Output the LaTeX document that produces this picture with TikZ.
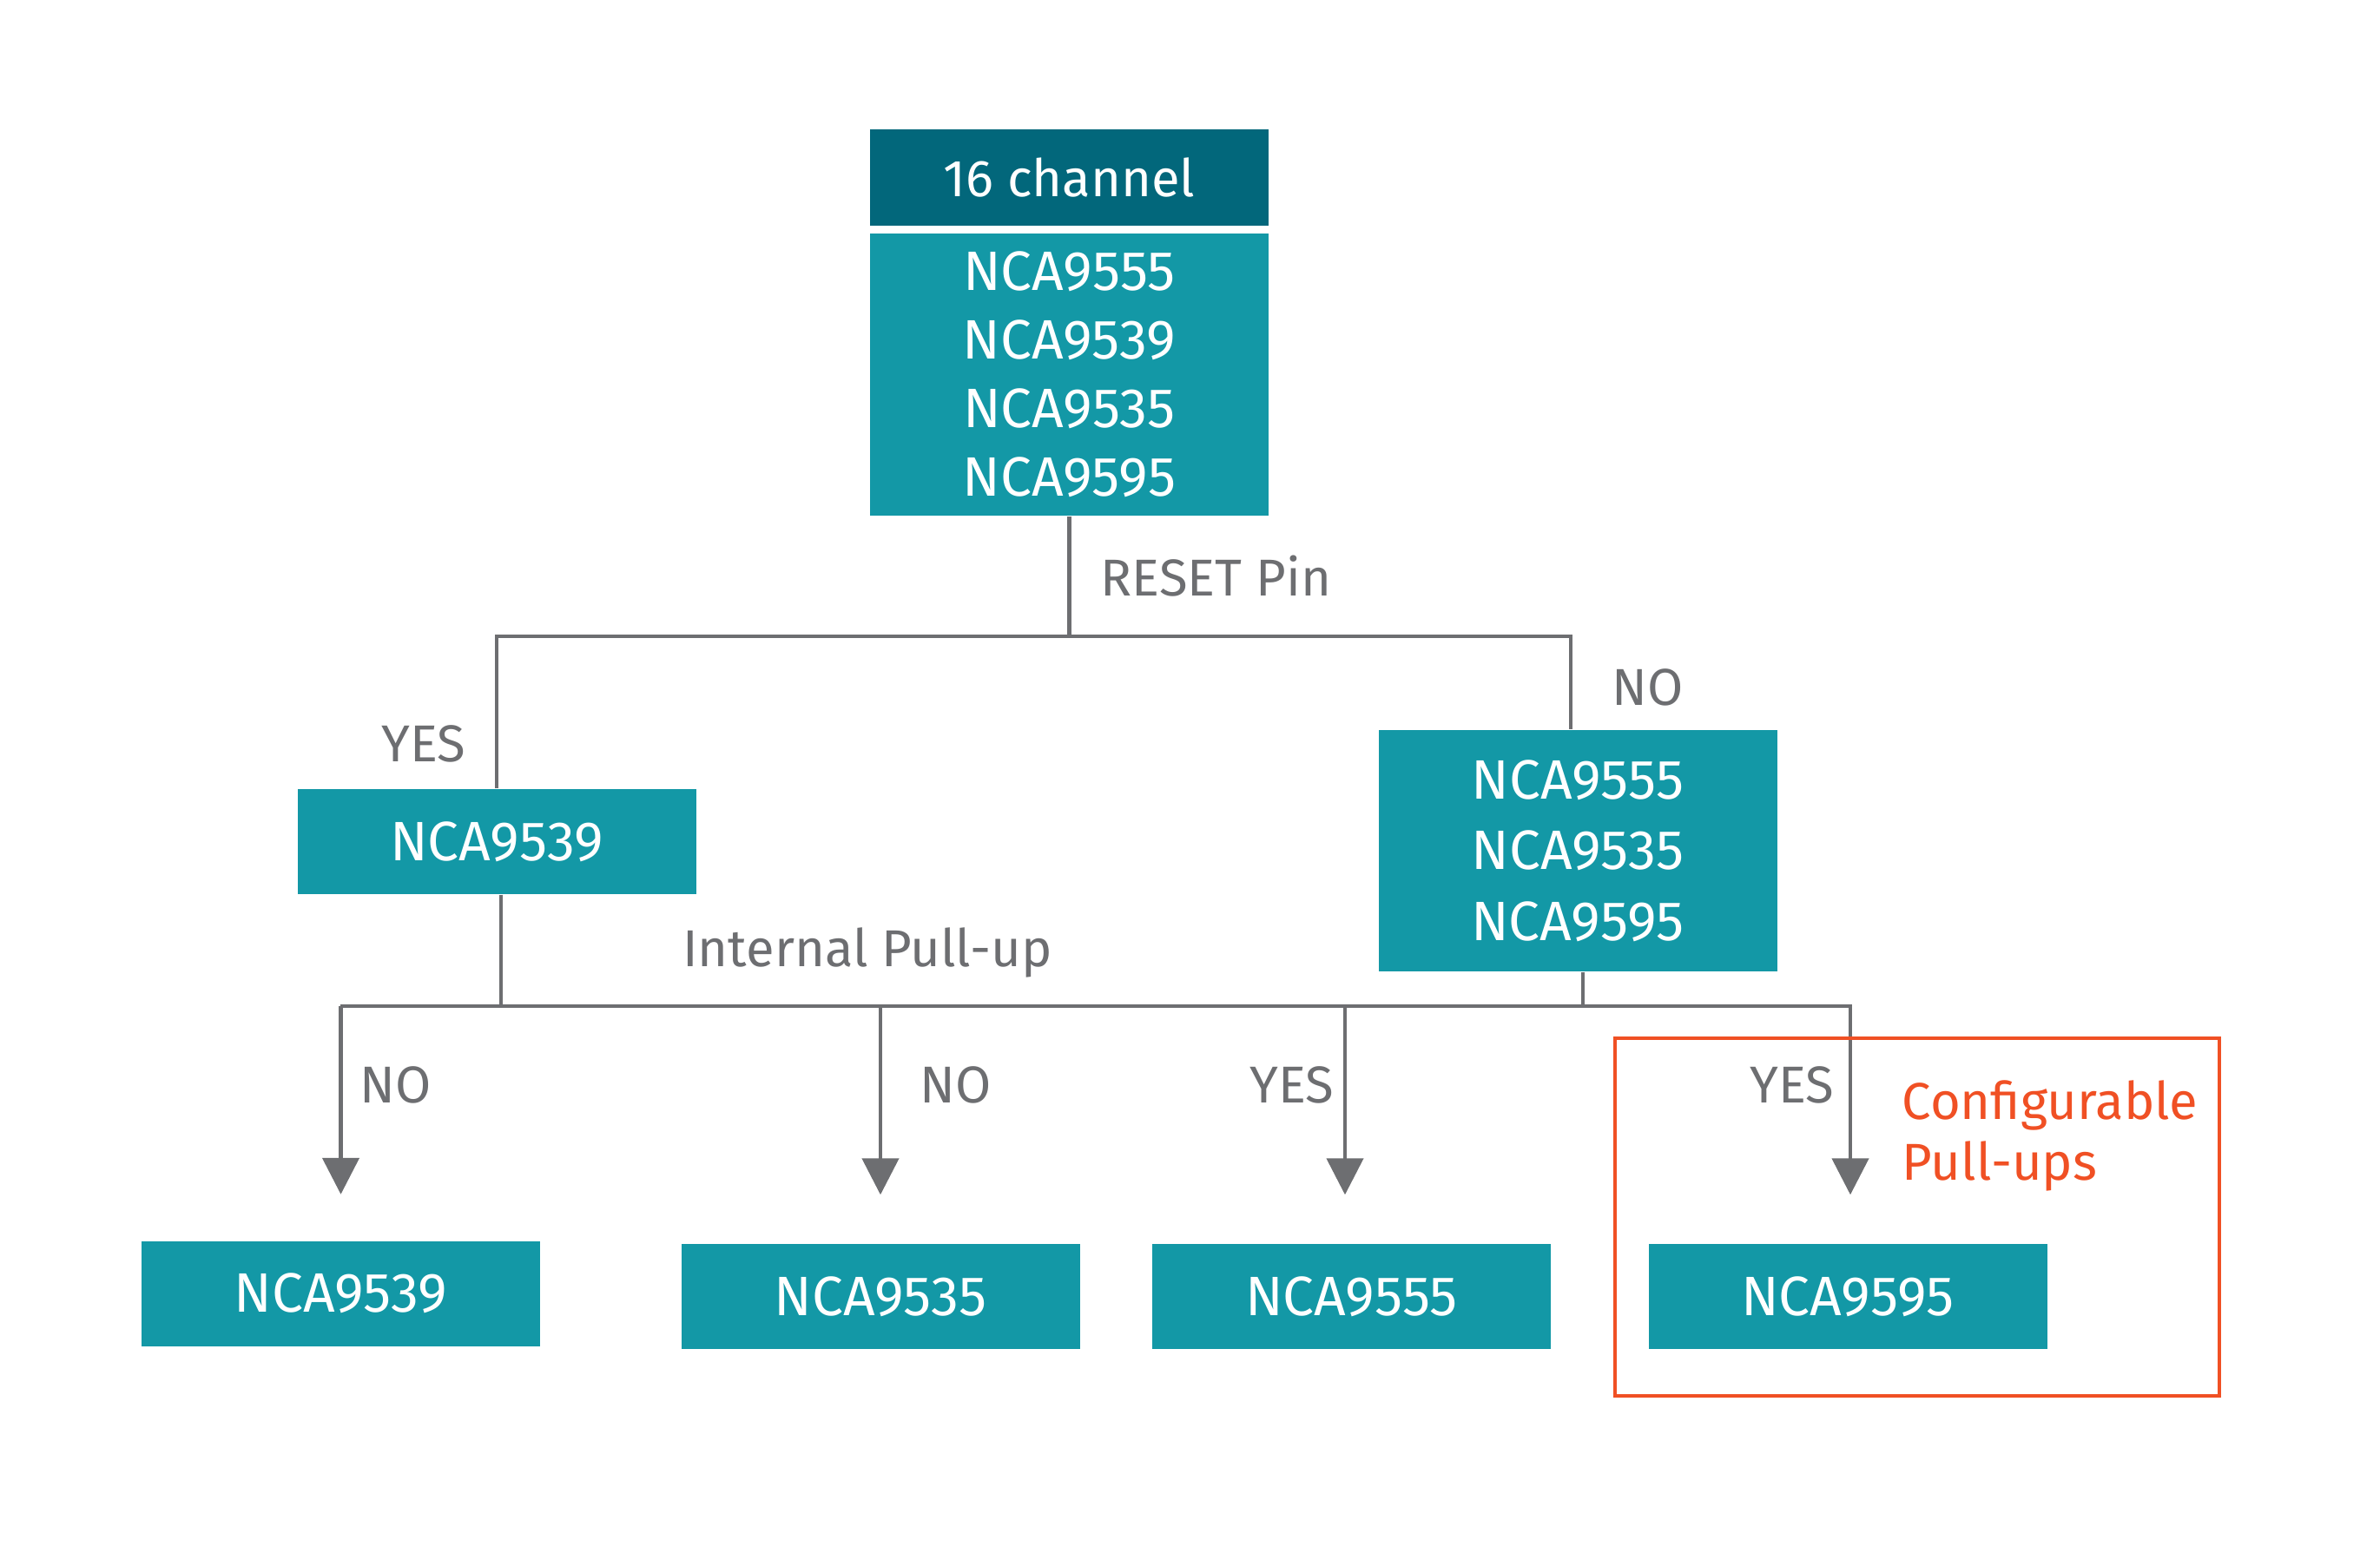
\documentclass[tikz,border=0pt]{standalone}
\usepackage{fontspec}
\setmainfont{Fira Sans}
\usepackage{tikz}
\usetikzlibrary{arrows.meta}
\definecolor{headteal}{RGB}{2,103,123}
\definecolor{boxteal}{RGB}{19,152,166}
\definecolor{linegray}{RGB}{109,110,113}
\definecolor{pullred}{RGB}{240,80,36}
\tikzset{
	chip/.style={rectangle,fill=boxteal,text=white,minimum width=4.59cm,minimum height=1.21cm,inner sep=0,align=center,font=\fontsize{18.2}{22.5}\selectfont},
	tag/.style={text=linegray,inner sep=0,font=\fontsize{17}{22.5}\selectfont},
	wire/.style={draw=linegray,line width=1.3pt},
	arr/.style={wire,-{Triangle[width=4.2mm,length=4.2mm]}}
}

\begin{document}
\begin{tikzpicture}
	\useasboundingbox (0,0) rectangle (27.41,-17.89);
	% top of the tree
	\node[chip,fill=headteal,minimum height=1.11cm,font=\fontsize{17}{22.5}\selectfont] (head) at (12.315,-2.045) {16 channel};
	\node[chip,minimum height=3.25cm] (all) at (12.315,-4.315) {NCA9555\\NCA9539\\NCA9535\\NCA9595};
	\node[chip] (lft) at (5.72,-9.695) {NCA9539};
	\node[chip,minimum height=2.78cm,font=\fontsize{18.2}{23.2}\selectfont] (rgt) at (18.17,-9.80) {NCA9555\\NCA9535\\NCA9595};
	\coordinate (split) at (12.315,-7.33);
	\draw[wire] (all.south) -- (split);
	\draw[wire] (lft.north) |- (split) -| ([xshift=-0.8mm]rgt.north);
	\node[tag,anchor=base west] (reset) at (12.67,-6.86) {RESET Pin};
	\node[tag,anchor=base] (yes1) at (4.88,-8.77) {YES};
	\node[tag,anchor=base] (no1) at (18.98,-8.12) {NO};
	\node[tag,anchor=base] (pullup) at (9.99,-11.13) {Internal Pull-up};
	% bottom row
	\node[chip] (c9539) at (3.925,-14.90) {NCA9539};
	\node[chip] (c9535) at (10.14,-14.935) {NCA9535};
	\node[chip] (c9555) at (15.565,-14.935) {NCA9555};
	\node[chip] (c9595) at (21.28,-14.935) {NCA9595};
	\coordinate (busL) at (3.92,-11.59);
	\coordinate (busR) at (21.33,-11.59);
	\draw[wire] (busL) -- (busR);
	\draw[wire] ([xshift=0.5mm]lft.south) -- ([xshift=0.5mm]lft.south |- busL);
	\draw[wire] ([xshift=0.6mm]rgt.south) -- ([xshift=0.6mm]rgt.south |- busL);
	\draw[arr] (c9539.north |- busL) -- ([yshift=5.3mm]c9539.north);
	\draw[arr] (c9535.north |- busL) -- ([yshift=5.6mm]c9535.north);
	\draw[arr] ([xshift=-0.75mm]c9555.north |- busL) -- ([xshift=-0.75mm,yshift=5.6mm]c9555.north);
	\draw[arr] ([xshift=0.3mm]c9595.north |- busL) -- ([xshift=0.3mm,yshift=5.6mm]c9595.north);
	\node[tag,anchor=base] (no2) at (4.56,-12.70) {NO};
	\node[tag,anchor=base] (no3) at (11.01,-12.70) {NO};
	\node[tag,anchor=base] (yes2) at (14.88,-12.70) {YES};
	\node[tag,anchor=base] (yes3) at (20.64,-12.70) {YES};
	% configurable pull-ups
	\draw[pullred,line width=1.2pt] (18.60,-11.96) rectangle (25.56,-16.08);
	\node[tag,text=pullred,align=left,anchor=base west,font=\fontsize{17}{19.8}\selectfont] (conf) at (21.90,-13.59) {Configurable\\Pull-ups};
\end{tikzpicture}
\end{document}
